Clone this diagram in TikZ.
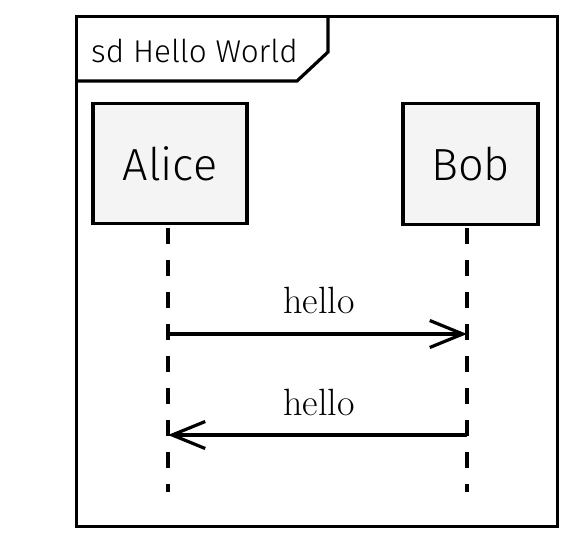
\documentclass[tikz,border=0pt]{standalone}
\usepackage{fontspec}
\setsansfont{Fira Sans Light}
\usetikzlibrary{arrows.meta}
\definecolor{boxfill}{HTML}{F4F4F4}
\tikzset{
  thickline/.style={line width=3.2pt},
  actorbox/.style={draw, thickline, fill=boxfill, inner sep=0pt, font=\sffamily\fontsize{45}{45}\selectfont},
  lifeline/.style={thickline, dash pattern=on 16pt off 16pt},
  msg/.style={thickline, -{Straight Barb[length=33pt,width=27pt]}},
  msglabel/.style={font=\fontsize{38}{38}\selectfont, anchor=base, inner sep=0pt},
}
\begin{document}
\begin{tikzpicture}[x=1pt,y=-1pt]
\useasboundingbox (0,0) rectangle (571,542);
% frame
\node[draw, thickline, minimum width=481pt, minimum height=510pt, inner sep=0pt, anchor=north west] (frame) at (75,15) {};
\draw[thickline] (frame.north west) ++(253,0) coordinate (fr1) -- ++(0,37) coordinate (fr2) -- ++(-31,29) coordinate (fr3) -- (frame.north west |- fr3) coordinate (fr4);
\node[font=\sffamily\fontsize{31.5}{31.5}\selectfont, anchor=base west, inner sep=0pt] (title) at (91,62) {sd Hello World};
% actors
\node[actorbox, minimum width=154pt, minimum height=120pt] (alice) at (170,163.5) {Alice};
\node[actorbox, minimum width=135pt, minimum height=121pt] (bob) at (470.5,164) {Bob};
% lifelines
\coordinate (aTop) at (168,228);
\coordinate (aBot) at (168,492);
\coordinate (bTop) at (467,228);
\coordinate (bBot) at (467,492);
\draw[lifeline] (aTop) -- (aBot);
\draw[lifeline] (bTop) -- (bBot);
% messages
\coordinate (a1) at (168,334);
\coordinate (b1) at (467,334);
\coordinate (a2) at (168,435);
\coordinate (b2) at (467,435);
\draw[msg] (a1) -- (b1);
\draw[msg] (b2) -- (a2);
\node[msglabel] (l1) at (319,313) {hello};
\node[msglabel] (l2) at (319,415) {hello};
\end{tikzpicture}
\end{document}
